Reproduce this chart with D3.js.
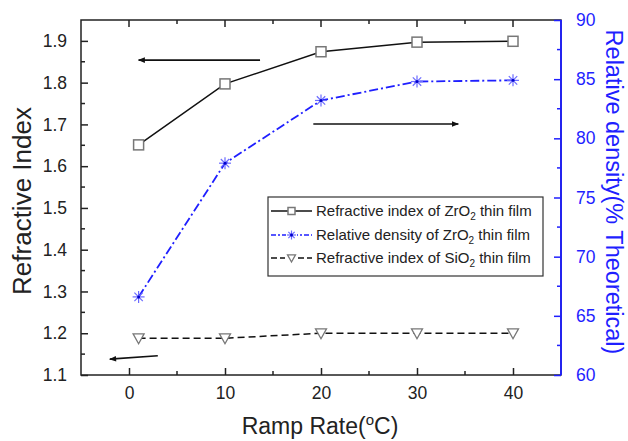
<!DOCTYPE html>
<html><head><meta charset="utf-8">
<script src="https://cdn.jsdelivr.net/npm/d3@7"></script>
<style>body{margin:0;background:#fff}svg{display:block}text{font-family:"Liberation Sans",Arial,sans-serif}</style>
</head><body>
<svg id="c" width="628" height="441"></svg>
<script>
const rampRates = [1, 10, 20, 30, 40];
const riZrO2 = [1.651, 1.797, 1.874, 1.897, 1.899];
const densityZrO2 = [66.6, 77.9, 83.2, 84.8, 84.9];
const riSiO2 = [1.188, 1.188, 1.200, 1.200, 1.200];
const xTicks = [0, 10, 20, 30, 40];
const yLeftTicks = [1.1, 1.2, 1.3, 1.4, 1.5, 1.6, 1.7, 1.8, 1.9];
const yRightTicks = [60, 65, 70, 75, 80, 85, 90];
const legendLabels = [["Refractive index of ZrO", "2", " thin film"], ["Relative density of ZrO", "2", " thin film"], ["Refractive index of SiO", "2", " thin film"]];
// arrows in data units of left axis: [x1,y1,x2,y2]
const arrows = [[13.65, 1.854, 1.0, 1.854], [19.2, 1.701, 34.3, 1.701], [3.0, 1.146, -2.0, 1.138]];

const svg = d3.select("#c");
const L = 81, R = 561, T = 20, B = 375;
const blue = "#1f1fff";
const x = d3.scaleLinear().domain([-5, 45]).range([L, R]);
const yL = d3.scaleLinear().domain([1.1, 1.95]).range([B, T]);
const yR = d3.scaleLinear().domain([60, 90]).range([B, T]);

// frame
svg.append("rect").attr("x", L).attr("y", T).attr("width", R - L).attr("height", B - T)
  .attr("fill", "none").attr("stroke", "#222").attr("stroke-width", 1.5);

// bottom axis
const xb = svg.append("g").attr("transform", `translate(0,${B})`)
  .call(d3.axisBottom(x).tickValues(xTicks).tickSize(-7).tickPadding(12).tickFormat(d3.format("d")));
xb.select(".domain").remove();
xb.selectAll(".tick line").attr("stroke", "#222").attr("stroke-width", 1.5);
xb.selectAll("text").attr("font-size", 17.5).attr("fill", "#222");
const xMinor = d3.range(-5, 46, 5).filter(v => v % 10 !== 0 && v > -5 && v < 45);
svg.append("g").selectAll("line").data(xMinor).join("line")
  .attr("x1", d => x(d)).attr("x2", d => x(d)).attr("y1", B).attr("y2", B - 4)
  .attr("stroke", "#222").attr("stroke-width", 1.5);
// top ticks
svg.append("g").selectAll("line").data(d3.range(0, 45, 5)).join("line")
  .attr("x1", d => x(d)).attr("x2", d => x(d)).attr("y1", T).attr("y2", d => T + (d % 10 === 0 ? 7 : 4))
  .attr("stroke", "#222").attr("stroke-width", 1.5);

// left axis
const yl = svg.append("g").attr("transform", `translate(${L},0)`)
  .call(d3.axisLeft(yL).tickValues(yLeftTicks).tickSize(-7).tickPadding(14).tickFormat(d3.format(".1f")));
yl.select(".domain").remove();
yl.selectAll(".tick line").attr("stroke", "#222").attr("stroke-width", 1.5);
yl.selectAll("text").attr("font-size", 17.5).attr("fill", "#222");
svg.append("g").selectAll("line").data(d3.range(1.15, 1.95, 0.1)).join("line")
  .attr("x1", L).attr("x2", L + 4).attr("y1", d => yL(d)).attr("y2", d => yL(d))
  .attr("stroke", "#222").attr("stroke-width", 1.5);

// right axis (blue)
const yr = svg.append("g").attr("transform", `translate(${R},0)`)
  .call(d3.axisRight(yR).tickValues(yRightTicks).tickSize(-7).tickPadding(15).tickFormat(d3.format("d")));
yr.select(".domain").attr("stroke", blue).attr("stroke-width", 1.8).attr("d", `M0,${T}V${B}`);
yr.selectAll(".tick line").attr("stroke", blue).attr("stroke-width", 1.5);
yr.selectAll("text").attr("font-size", 17.5).attr("fill", blue);
svg.append("g").selectAll("line").data(d3.range(62.5, 90, 5)).join("line")
  .attr("x1", R).attr("x2", R - 4).attr("y1", d => yR(d)).attr("y2", d => yR(d))
  .attr("stroke", blue).attr("stroke-width", 1.5);

// axis titles
svg.append("text").attr("transform", `translate(31,201) rotate(-90)`)
  .attr("text-anchor", "middle").attr("font-size", 26).attr("fill", "#222").text("Refractive Index");
svg.append("text").attr("transform", `translate(606,192) rotate(90)`)
  .attr("text-anchor", "middle").attr("font-size", 23.5).attr("fill", blue).text("Relative density(% Theoretical)");
const xt = svg.append("text").attr("x", 320).attr("y", 434).attr("text-anchor", "middle")
  .attr("font-size", 23).attr("fill", "#222");
xt.append("tspan").text("Ramp Rate(");
xt.append("tspan").attr("font-size", 15).attr("dy", -9).text("o");
xt.append("tspan").attr("dy", 9).text("C)");

// series
const lineL = d3.line().x((d, i) => x(rampRates[i])).y(d => yL(d));
const lineR = d3.line().x((d, i) => x(rampRates[i])).y(d => yR(d));
svg.append("path").attr("d", lineL(riZrO2)).attr("fill", "none").attr("stroke", "#111").attr("stroke-width", 1.5);
svg.append("path").attr("d", lineR(densityZrO2)).attr("fill", "none").attr("stroke", blue).attr("stroke-width", 1.8)
  .attr("stroke-dasharray", "9,3,2,3");
svg.append("path").attr("d", lineL(riSiO2)).attr("fill", "none").attr("stroke", "#111").attr("stroke-width", 1.5)
  .attr("stroke-dasharray", "7,4");

function square(g, cx, cy, s) {
  g.append("rect").attr("x", cx - s / 2).attr("y", cy - s / 2).attr("width", s).attr("height", s)
    .attr("fill", "#fff").attr("stroke", "#777").attr("stroke-width", 1.5);
}
function star(g, cx, cy, r) {
  const gg = g.append("g").attr("stroke", "#6b6bff").attr("stroke-width", 1.2);
  [[-r, 0, r, 0], [0, -r, 0, r], [-r * .7, -r * .7, r * .7, r * .7], [-r * .7, r * .7, r * .7, -r * .7]].forEach(a =>
    gg.append("line").attr("x1", cx + a[0]).attr("y1", cy + a[1]).attr("x2", cx + a[2]).attr("y2", cy + a[3]));
  g.append("circle").attr("cx", cx).attr("cy", cy).attr("r", 1.5).attr("fill", "#0000cc");
}
function tri(g, cx, cy, s) {
  g.append("path").attr("d", `M${cx - s / 2},${cy - s * 0.4}L${cx + s / 2},${cy - s * 0.4}L${cx},${cy + s * 0.5}Z`)
    .attr("fill", "#fff").attr("stroke", "#777").attr("stroke-width", 1.3);
}
const mk = svg.append("g");
riZrO2.forEach((v, i) => square(mk, x(rampRates[i]), yL(v), 10));
densityZrO2.forEach((v, i) => star(mk, x(rampRates[i]), yR(v), 6));
riSiO2.forEach((v, i) => tri(mk, x(rampRates[i]), yL(v), 11));

// arrows
const defs = svg.append("defs");
defs.append("marker").attr("id", "ah").attr("viewBox", "0 0 10 10").attr("refX", 9).attr("refY", 5)
  .attr("markerWidth", 11).attr("markerHeight", 7).attr("orient", "auto").attr("markerUnits", "userSpaceOnUse")
  .append("path").attr("d", "M0,1L10,5L0,9Z").attr("fill", "#111");
svg.append("g").selectAll("line").data(arrows).join("line")
  .attr("x1", d => x(d[0])).attr("y1", d => yL(d[1])).attr("x2", d => x(d[2])).attr("y2", d => yL(d[3]))
  .attr("stroke", "#111").attr("stroke-width", 1.6).attr("marker-end", "url(#ah)");

// legend
const lg = svg.append("g");
lg.append("rect").attr("x", 268).attr("y", 197).attr("width", 275).attr("height", 79)
  .attr("fill", "#fff").attr("stroke", "#333").attr("stroke-width", 1.2);
const rowsY = [211, 235, 258];
const styles = [{ c: "#111", d: null }, { c: blue, d: "5,2,2,2" }, { c: "#111", d: "6,3" }];
legendLabels.forEach((lab, i) => {
  const yy = rowsY[i];
  lg.append("line").attr("x1", 271).attr("x2", 312).attr("y1", yy).attr("y2", yy)
    .attr("stroke", styles[i].c).attr("stroke-width", 1.5).attr("stroke-dasharray", styles[i].d);
  if (i === 0) square(lg, 291.5, yy, 7);
  if (i === 1) { lg.append("rect").attr("x", 286).attr("y", yy - 5).attr("width", 11).attr("height", 10).attr("fill", "#fff"); star(lg, 291.5, yy, 4.5); }
  if (i === 2) { lg.append("rect").attr("x", 285).attr("y", yy - 5).attr("width", 13).attr("height", 10).attr("fill", "#fff"); tri(lg, 291.5, yy, 8); }
  const t = lg.append("text").attr("x", 316).attr("y", yy + 5).attr("font-size", 15).attr("fill", "#222");
  t.append("tspan").text(lab[0]);
  t.append("tspan").attr("font-size", 10).attr("dy", 4).text(lab[1]);
  t.append("tspan").attr("dy", -4).text(lab[2]);
});
</script>
</body></html>
